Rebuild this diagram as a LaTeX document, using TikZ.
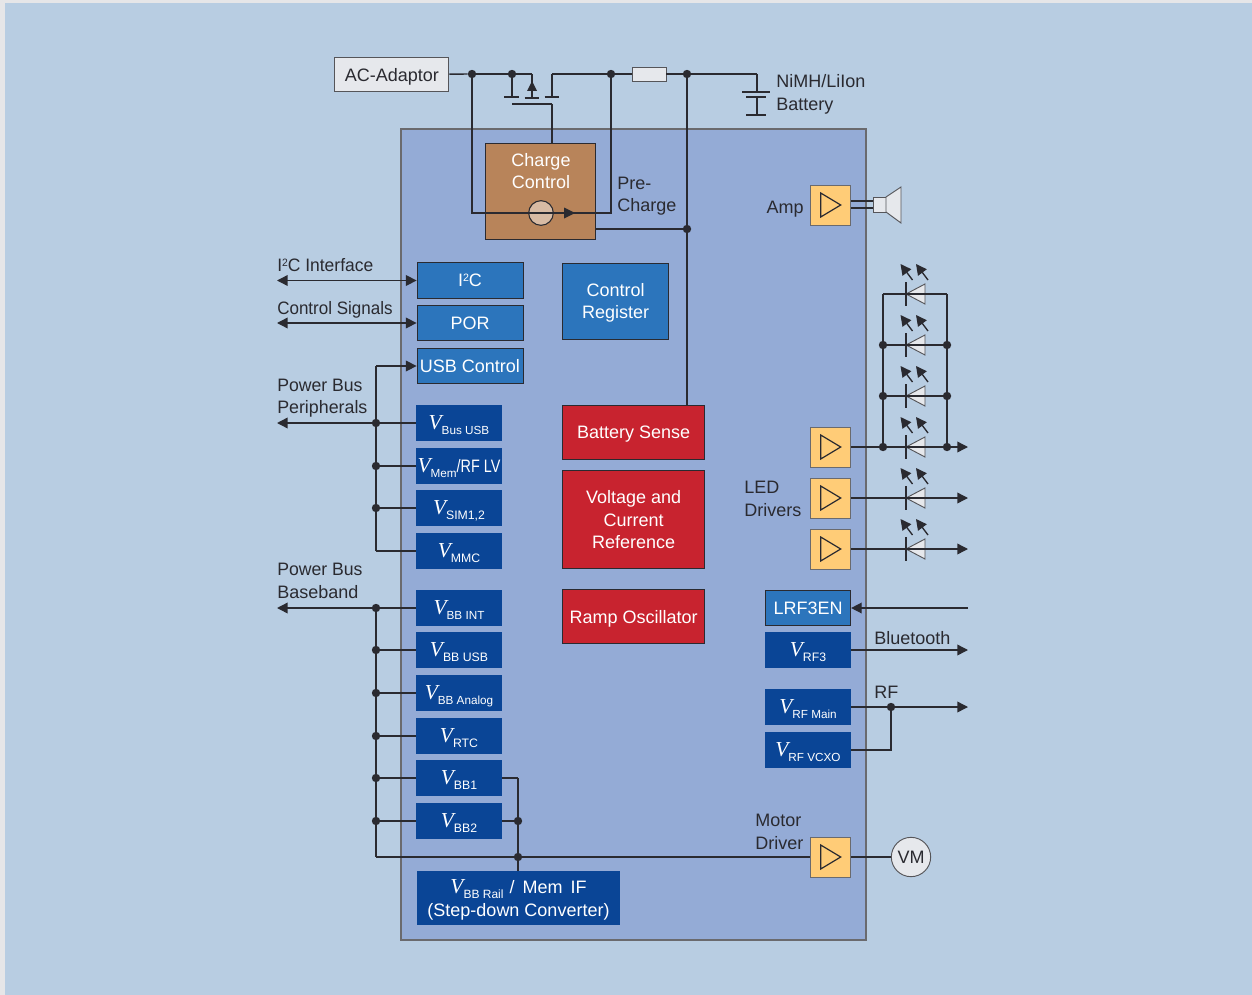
\documentclass[tikz,border=0pt]{standalone}
\usepackage{fontspec}
\setmainfont{Liberation Sans}
\newfontfamily\vfont{Liberation Serif}
\usetikzlibrary{arrows.meta}
\definecolor{pagebg}{HTML}{B8CDE2}
\definecolor{pageedge}{HTML}{E6E6E8}
\definecolor{chipbg}{HTML}{94ABD6}
\definecolor{inkline}{HTML}{2A2A30}
\definecolor{boxblue}{HTML}{2C75BC}
\definecolor{boxdark}{HTML}{0A4596}
\definecolor{boxred}{HTML}{C8232F}
\definecolor{boxbrown}{HTML}{B8845A}
\definecolor{boxamp}{HTML}{FFCC77}
\definecolor{partgrey}{HTML}{E6E8EC}
\newcommand{\vlabel}[2]{{\fontsize{16}{18}\vfont\itshape V}\raisebox{-0.45ex}{\fontsize{#2}{11}\selectfont #1}}
\newcommand{\twosup}{\raisebox{3.8pt}{\fontsize{8}{8}\selectfont 2}}
\tikzset{
  txt/.style={font=\fontsize{13.5}{16.9}\selectfont,inner sep=0pt,text=inkline,align=left,anchor=west,text height=9.7pt,text depth=0pt},
  block/.style={font=\fontsize{13.5}{16.9}\selectfont,text=white,align=center,inner sep=0pt,text depth=0pt,draw=inkline,line width=0.6pt},
  blue/.style={block,fill=boxblue,minimum width=79.5pt,minimum height=26.5pt},
  red/.style={block,fill=boxred,minimum width=106.5pt},
  volt/.style={block,draw=none,fill=boxdark,minimum width=64.5pt,minimum height=27pt},
  ampbox/.style={draw=inkline!70,line width=0.6pt,fill=boxamp,minimum size=30pt,inner sep=0pt},
  grey/.style={draw=inkline!80,line width=0.7pt,fill=partgrey,inner sep=0pt},
  dot/.style={circle,fill=inkline,inner sep=0pt,minimum size=6.3pt},
  wire/.style={draw=inkline,line width=1.05pt},
  thin wire/.style={draw=inkline,line width=0.8pt},
  ampsym/.pic={\draw[inkline,line width=0.9pt] (-10,-12) -- (10,0) -- (-10,12) -- cycle;},
  ledsym/.pic={
    \draw[grey] (19,-10) -- (0,0) -- (19,10) -- cycle;
    \draw[thin wire] (0,-12) -- (0,12);
    \draw[thin wire,line width=1pt,-{Triangle[length=8pt,width=8pt]}] (6.5,-14) -- (-5.5,-30);
    \draw[thin wire,line width=1pt,-{Triangle[length=8pt,width=8pt]}] (22,-14) -- (10,-30);
  }
}
\begin{document}
\begin{tikzpicture}[x=0.75pt,y=-0.75pt,>={Triangle[length=8pt,width=8pt]}]
  \useasboundingbox (0,0) rectangle (1252,995);
  \fill[pageedge] (0,0) rectangle (1252,995);
  \fill[pagebg] (5,3) rectangle (1252,995);
  \draw[fill=chipbg,draw=inkline!70,line width=0.8pt] (401,129) rectangle (866,940);
  % blocks
  \draw
    (391.8,74.5) node[grey,text=inkline,font=\fontsize{13.5}{16.9}\selectfont,text depth=0pt,minimum width=85.5pt,minimum height=26pt] (adaptor){AC-Adaptor}
    (649,74) node[grey,minimum width=25.5pt,minimum height=10.5pt] (shunt){}
    (540.8,191.5) node[block,fill=boxbrown,minimum width=82.5pt,minimum height=71.5pt] (charge){}
    (541,171) node[font=\fontsize{13.5}{16.9}\selectfont,text=white,inner sep=0pt,align=center] (chargetxt){Charge\\Control}
    (541,213) node[circle,draw=inkline,line width=0.8pt,fill=boxbrown!55!white,minimum size=18.5pt,inner sep=0pt] (source){}
    (470,280.5) node[blue] (i2c){I\twosup C}
    (470,323) node[blue] (por){POR}
    (470,366) node[blue] (usb){USB Control}
    (615.7,301) node[blue,minimum height=57pt] (ctrlreg){Control\\Register}
    (633.7,432) node[red,minimum height=40.5pt] (batsense){Battery Sense}
    (633.7,519.5) node[red,minimum height=74pt] (volref){Voltage and\\Current\\Reference}
    (633.7,616.5) node[red,minimum height=40pt] (ramp){Ramp Oscillator}
    (459,423) node[volt] (vbus){\vlabel{Bus USB}{8.8}}
    (459,466) node[volt] (vmem){\vlabel{Mem}{8.8}\scalebox{0.8}[1]{/RF LV}}
    (459,508) node[volt] (vsim){\vlabel{SIM1,2}{9.2}}
    (459,551) node[volt] (vmmc){\vlabel{MMC}{9.2}}
    (459,608) node[volt] (vint){\vlabel{BB INT}{8.8}}
    (459,650) node[volt] (vbbusb){\vlabel{BB USB}{9.2}}
    (459,693) node[volt] (vanalog){\vlabel{BB Analog}{8.8}}
    (459,736) node[volt] (vrtc){\vlabel{RTC}{9.2}}
    (459,778) node[volt] (vbb1){\vlabel{BB1}{9.2}}
    (459,821) node[volt] (vbb2){\vlabel{BB2}{9.2}}
    (518.5,898) node[volt,minimum width=152pt,minimum height=40.5pt] (vrail){\vlabel{BB Rail}{9}\,\,/\, Mem\, IF\\(Step-down Converter)}
    (808,608) node[blue,minimum width=64pt] (lrf){LRF3EN}
    (808,650) node[volt] (vrf3){\vlabel{RF3}{9.2}}
    (808,707) node[volt] (vmain){\vlabel{RF Main}{8.8}}
    (808,750) node[volt] (vvcxo){\vlabel{RF VCXO}{8.8}}
    (830.7,205) node[ampbox] (amp){}
    (830.7,447) node[ampbox] (led1){}
    (830.7,498) node[ampbox] (led2){}
    (830.7,549) node[ampbox] (led3){}
    (830.7,857) node[ampbox] (motor){}
    (911,857) node[circle,grey,text=inkline,font=\fontsize{13.5}{16.9}\selectfont,minimum size=29.5pt] (vm){VM};
  % symbols
  \draw (830.7,205) pic {ampsym};
  \draw (830.7,447) pic {ampsym};
  \draw (830.7,498) pic {ampsym};
  \draw (830.7,549) pic {ampsym};
  \draw (830.7,857) pic {ampsym};
  \draw (906,294) pic {ledsym};
  \draw (906,345) pic {ledsym};
  \draw (906,396) pic {ledsym};
  \draw (906,447) pic {ledsym};
  \draw (906,498) pic {ledsym};
  \draw (906,549) pic {ledsym};
  \draw[grey] (873,197) rectangle (886,212);
  \draw[grey] (886,197) -- (901,187) -- (901,223) -- (886,212) -- cycle;
  % labels
  \draw
    (776,81) node[txt] (nimh){NiMH/LiIon}
    (776,104) node[txt] (battery){Battery}
    (617,183) node[txt] (pre){Pre-}
    (617,205) node[txt] (precharge){Charge}
    (804,207) node[txt,anchor=east] (amplabel){Amp}
    (277,265) node[txt] (i2clabel){\scalebox{0.97}[1]{I\twosup C Interface}}
    (277,308) node[txt] (ctrllabel){\scalebox{0.945}[1]{Control Signals}}
    (277,385) node[txt] (busper){\scalebox{0.98}[1]{Power Bus}}
    (277,407) node[txt] (periph){\scalebox{0.99}[1]{Peripherals}}
    (277,569) node[txt] (busbase){\scalebox{0.98}[1]{Power Bus}}
    (277,592) node[txt] (baseband){Baseband}
    (744,487) node[txt] (ledlabel){LED}
    (744,510) node[txt] (drivers){Drivers}
    (874,638) node[txt] (bluetooth){Bluetooth}
    (874,692) node[txt] (rf){RF}
    (755,820) node[txt] (motorlabel){Motor}
    (755,843) node[txt] (driverlabel){Driver};
  % junctions
  \draw
    (472,74) node[dot] (j1){}
    (512,74) node[dot] (j2){}
    (611,74) node[dot] (j3){}
    (687,74) node[dot] (j4){}
    (687,229) node[dot] (j5){}
    (376,423) node[dot] (p1){}
    (376,466) node[dot] (p2){}
    (376,508) node[dot] (p3){}
    (376,608) node[dot] (b1){}
    (376,650) node[dot] (b2){}
    (376,693) node[dot] (b3){}
    (376,736) node[dot] (b4){}
    (376,778) node[dot] (b5){}
    (376,821) node[dot] (b6){}
    (518,821) node[dot] (r1){}
    (518,857) node[dot] (r2){}
    (891,707) node[dot] (rfj){}
    (883,345) node[dot] (l2){}
    (883,396) node[dot] (l3){}
    (883,447) node[dot] (l4){}
    (947,345) node[dot] (k2){}
    (947,396) node[dot] (k3){}
    (947,447) node[dot] (k4){};
  \coordinate (fetl) at (512,97);
  \coordinate (fets) at (532,74);
  \coordinate (fetm) at (532,98);
  \coordinate (fetr) at (552,97);
  \coordinate (fettop) at (552,74);
  \coordinate (gatel) at (512,104);
  \coordinate (gater) at (552,104);
  \coordinate (chargein) at (552,144);
  \coordinate (batt) at (757,74);
  \coordinate (plate) at (757,92);
  \coordinate (platetwo) at (757,97);
  \coordinate (platethree) at (757,115);
  \coordinate (trickle) at (541,213);
  \coordinate (chargeout) at (596,229);
  \coordinate (sensein) at (687,405);
  \coordinate (i2cout) at (277,280.5);
  \coordinate (porout) at (277,323);
  \coordinate (perout) at (277,423);
  \coordinate (baseout) at (277,608);
  \coordinate (usbbend) at (376,366);
  \coordinate (mmcbend) at (376,551);
  \coordinate (busbend) at (376,857);
  \coordinate (bb1bend) at (518,778);
  \coordinate (railin) at (518,871);
  \coordinate (l1) at (883,294);
  \coordinate (k1) at (947,294);
  \coordinate (led1out) at (968,447);
  \coordinate (led2out) at (968,498);
  \coordinate (led3out) at (968,549);
  \coordinate (lrfin) at (968,608);
  \coordinate (btout) at (968,650);
  \coordinate (rfout) at (968,707);
  \coordinate (spk) at (873,201);
  \coordinate (spktwo) at (873,208);
  \coordinate (ampa) at (851,201);
  \coordinate (ampb) at (851,208);
  % connectors
  \begin{scope}[wire]
    \draw (adaptor) to (j1);
    \draw (j1) to (j2);
    \draw (j2) to (fets);
    \draw (j2) to (fetl);
    \draw (fetm) to (fets);
    \draw (fetr) to (fettop);
    \draw (fettop) to (j3);
    \draw (j3) to (shunt);
    \draw (shunt) to (j4);
    \draw (j4) to (batt);
    \draw (batt) to (plate);
    \draw (platetwo) to (platethree);
    \draw (j1.center) |- (trickle);
    \draw (j3.center) |- (trickle);
    \draw (gatel) to (gater);
    \draw (gater) to (chargein);
    \draw (j4) to (j5);
    \draw (j5) to (sensein);
    \draw (chargeout) to (j5);
    \draw[->] (usbbend) to (usb);
    \draw (usbbend) to (p1);
    \draw (vmmc) to (mmcbend);
    \draw (mmcbend) to (p3);
    \draw (p1) to (p2);
    \draw (p2) to (p3);
    \draw (vbus) to (p1);
    \draw (vmem) to (p2);
    \draw (vsim) to (p3);
    \draw[->] (p1) to (perout);
    \draw[<->] (i2cout) to (i2c);
    \draw[<->] (porout) to (por);
    \draw[->] (b1) to (baseout);
    \draw (vint) to (b1);
    \draw (vbbusb) to (b2);
    \draw (vanalog) to (b3);
    \draw (vrtc) to (b4);
    \draw (vbb1) to (b5);
    \draw (vbb2) to (b6);
    \draw (b1) to (b2);
    \draw (b2) to (b3);
    \draw (b3) to (b4);
    \draw (b4) to (b5);
    \draw (b5) to (b6);
    \draw (b6) to (busbend);
    \draw (busbend) to (r2);
    \draw (r2) to (motor);
    \draw (vbb1) to (bb1bend);
    \draw (bb1bend) to (r1);
    \draw (vbb2) to (r1);
    \draw (r1) to (r2);
    \draw (r2) to (railin);
    \draw[->] (lrfin) to (lrf);
    \draw[->] (vrf3) to (btout);
    \draw (vmain) to (rfj);
    \draw[->] (rfj) to (rfout);
    \draw (vvcxo) -| (rfj);
    \draw (motor) to (vm);
    \draw (ampa) to (spk);
    \draw (ampb) to (spktwo);
    \draw (led1) to (l4);
    \draw (l4) to (k4);
    \draw[->] (k4) to (led1out);
    \draw[->] (led2) to (led2out);
    \draw[->] (led3) to (led3out);
    \draw (l1) to (k1);
    \draw (l2) to (k2);
    \draw (l3) to (k3);
    \draw (l1) to (l2);
    \draw (l2) to (l3);
    \draw (l3) to (l4);
    \draw (k1) to (k2);
    \draw (k2) to (k3);
    \draw (k3) to (k4);
  \end{scope}
  % transistor and battery plates
  \begin{scope}[thin wire]
    \draw ([xshift=-6pt]fetl) to ([xshift=5.5pt]fetl);
    \draw ([xshift=-5.5pt]fetm) to ([xshift=5.5pt]fetm);
    \draw ([xshift=-5.5pt]fetr) to ([xshift=5.5pt]fetr);
    \draw ([xshift=-11pt]plate) to ([xshift=10pt]plate);
    \draw ([xshift=-8pt]platetwo) to ([xshift=7pt]platetwo);
    \draw ([xshift=-8pt]platethree) to ([xshift=7pt]platethree);
  \end{scope}
  \fill[inkline] (532,81) -- (537,91) -- (527,91) -- cycle;
  \fill[inkline] (575,213) -- (564,207.5) -- (564,218.5) -- cycle;
\end{tikzpicture}
\end{document}
